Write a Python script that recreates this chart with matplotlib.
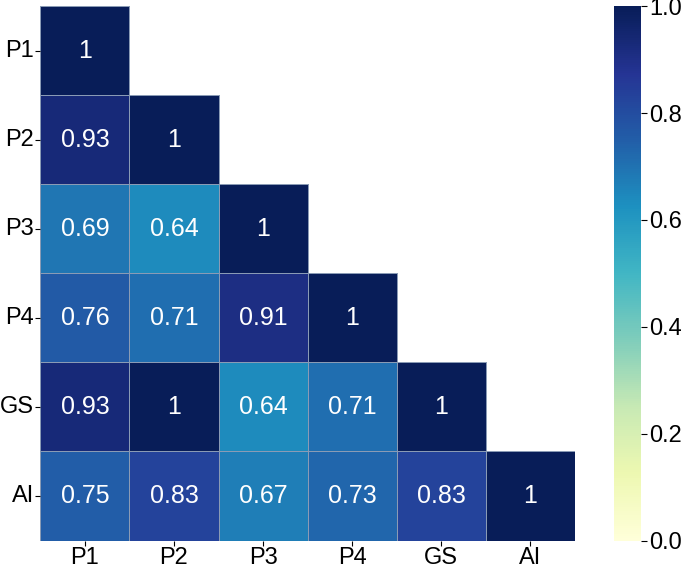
import numpy as np
import matplotlib
matplotlib.use("Agg")
import matplotlib.pyplot as plt
from matplotlib.colors import to_rgba
import seaborn as sns

plt.rcParams['font.family'] = ['Liberation Sans', 'DejaVu Sans']

labels = ["P1", "P2", "P3", "P4", "GS", "AI"]

# lower triangle of the correlation matrix, row by row
row_p1 = [1]
row_p2 = [0.93, 1]
row_p3 = [0.69, 0.64, 1]
row_p4 = [0.76, 0.71, 0.91, 1]
row_gs = [0.93, 1, 0.64, 0.71, 1]
row_ai = [0.75, 0.83, 0.67, 0.73, 0.83, 1]
rows = [row_p1, row_p2, row_p3, row_p4, row_gs, row_ai]

n = len(labels)
corr = np.full((n, n), np.nan)
for i, r in enumerate(rows):
    corr[i, :len(r)] = r
    corr[:len(r), i] = r
mask = np.triu(np.ones((n, n), dtype=bool), k=1)

fig = plt.figure(figsize=(6.85, 5.66), dpi=100)
ax = fig.add_axes([0.059, 0.045, 0.780, 0.944])
cax = fig.add_axes([0.896, 0.045, 0.040, 0.944])

sns.heatmap(corr, mask=mask, cmap="YlGnBu", vmin=0, vmax=1, annot=True,
            fmt=".2g", annot_kws={"color": "white", "fontsize": 18},
            linewidths=0.6, linecolor="#8a9bb5", ax=ax, cbar_ax=cax,
            xticklabels=labels, yticklabels=labels)

# hide the cell borders of the masked (upper) cells
mesh = ax.collections[0]
edge = np.array([to_rgba("#8a9bb5")] * (n * n))
edge[mask.ravel(), 3] = 0
mesh.set_edgecolors(edge)

ax.tick_params(axis="both", labelsize=17, length=3.5, pad=1)
plt.setp(ax.get_yticklabels(), rotation=0)
cax.tick_params(labelsize=17, length=4, pad=2)
cax.set_yticks([0, 0.2, 0.4, 0.6, 0.8, 1.0])
cax.set_yticklabels(["0.0", "0.2", "0.4", "0.6", "0.8", "1.0"])

fig.savefig("out.png", dpi=100)
